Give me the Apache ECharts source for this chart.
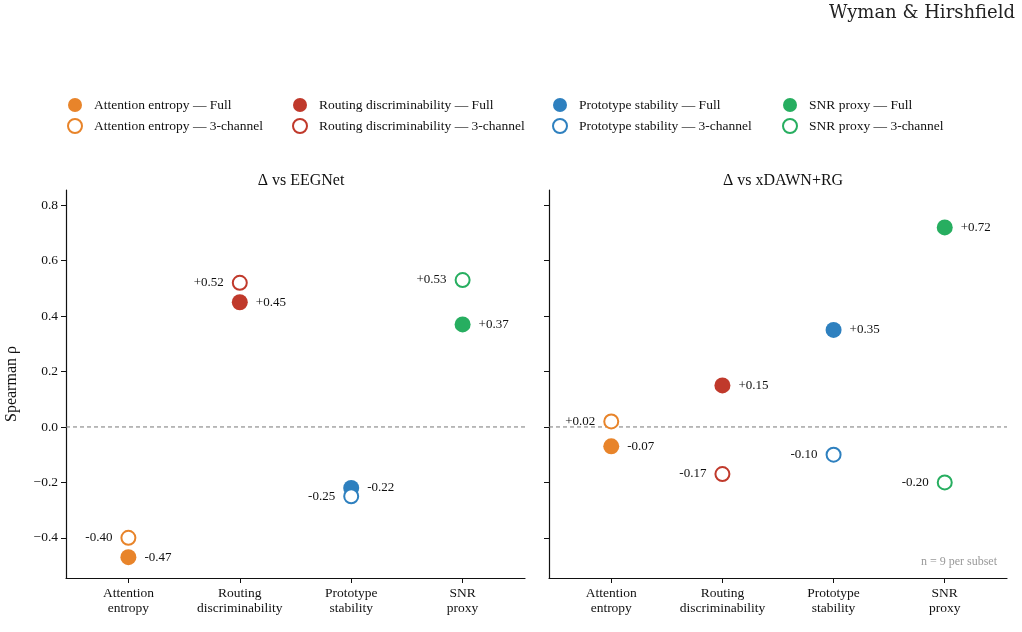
<!DOCTYPE html>
<html>
<head>
<meta charset="utf-8">
<script src="https://cdn.jsdelivr.net/npm/echarts@6/dist/echarts.min.js"></script>
<style>
  html, body { margin: 0; padding: 0; background: #fff; }
  #chart { width: 1022px; height: 632px; }
</style>
</head>
<body>
<div id="chart"></div>
<script>
// metrics (x categories) and tick labels
var categories = ['Attention entropy', 'Routing discriminability', 'Prototype stability', 'SNR proxy'];
var tickLabels = ['Attention\nentropy', 'Routing\ndiscriminability', 'Prototype\nstability', 'SNR\nproxy'];
var colors = ['#e8842a', '#c0392b', '#2e80bf', '#27ae60'];

// Spearman rho, panel 1: delta vs EEGNet
var eegFull = [-0.47, 0.45, -0.22, 0.37];
var eeg3ch  = [-0.40, 0.52, -0.25, 0.53];
// panel 2: delta vs xDAWN+RG
var xdawnFull = [-0.07, 0.15, 0.35, 0.72];
var xdawn3ch  = [0.02, -0.17, -0.10, -0.20];

var yTicks = [-0.4, -0.2, 0.0, 0.2, 0.4, 0.6, 0.8];
var serif = '"Liberation Serif", "DejaVu Serif", serif';

function fmtSigned(v) {
    return (v >= 0 ? '+' : '') + v.toFixed(2);
}

function makeSeries(panel, values, full) {
    var out = [];
    for (var i = 0; i < categories.length; i++) {
        var c = colors[i];
        out.push({
            name: categories[i] + (full ? ' — Full' : ' — 3-channel'),
            type: 'scatter',
            xAxisIndex: panel,
            yAxisIndex: panel,
            symbol: 'circle',
            symbolSize: full ? 16 : 14,
            itemStyle: full ? { color: c, opacity: 1 } : { color: '#fff', borderColor: c, borderWidth: 2, opacity: 1 },
            label: {
                show: true,
                position: full ? 'right' : 'left',
                distance: 8,
                formatter: function (p) { return fmtSigned(p.value[1]); },
                color: '#111',
                fontFamily: serif,
                fontSize: 13
            },
            emphasis: { disabled: true },
            data: [[i, values[i]]],
            z: full ? 3 : 4
        });
    }
    return out;
}

function xAxisOpt(idx) {
    return {
        type: 'value',
        gridIndex: idx,
        min: -0.56,
        max: 3.56,
        splitLine: { show: false },
        axisLine: { onZero: false, lineStyle: { color: '#111', width: 1.2 } },
        axisTick: { show: true, length: 5, customValues: [0, 1, 2, 3], lineStyle: { color: '#111' } },
        axisLabel: {
            customValues: [0, 1, 2, 3],
            formatter: function (v) { return tickLabels[Math.round(v)]; },
            color: '#111',
            fontFamily: serif,
            fontSize: 13.5,
            lineHeight: 15,
            margin: 8
        }
    };
}

function yAxisOpt(idx, withLabels) {
    return {
        type: 'value',
        gridIndex: idx,
        min: -0.545,
        max: 0.855,
        splitLine: { show: false },
        axisLine: { show: true, onZero: false, lineStyle: { color: '#111', width: 1.2 } },
        axisTick: { show: true, length: 5, customValues: yTicks, lineStyle: { color: '#111' } },
        axisLabel: {
            show: withLabels,
            customValues: yTicks,
            formatter: function (v) { return v.toFixed(1).replace('-', '\u2212'); },
            color: '#111',
            fontFamily: serif,
            fontSize: 13.5,
            margin: 8
        },
        name: withLabels ? 'Spearman ρ' : '',
        nameLocation: 'middle',
        nameGap: 46,
        nameRotate: 90,
        nameTextStyle: { fontFamily: serif, fontSize: 16, color: '#111' }
    };
}

function zeroLine(panel) {
    return {
        type: 'line',
        xAxisIndex: panel,
        yAxisIndex: panel,
        silent: true,
        symbol: 'none',
        data: [[-0.56, 0], [3.56, 0]],
        lineStyle: { color: '#777', width: 1, type: [4, 3] },
        z: 1
    };
}

var legends = [];
for (var i = 0; i < categories.length; i++) {
    legends.push({
        orient: 'vertical',
        left: [62, 287, 547, 777][i],
        top: 93,
        itemWidth: 28,
        itemHeight: 14,
        itemGap: 6,
        selectedMode: false,
        textStyle: { fontFamily: serif, fontSize: 13.5, color: '#111' },
        data: [categories[i] + ' — Full', categories[i] + ' — 3-channel']
    });
}

var option = {
    animation: false,
    backgroundColor: '#fff',
    title: [
        { text: 'Δ vs EEGNet', left: 296, top: 168, textAlign: 'center',
          textStyle: { fontFamily: serif, fontSize: 16, fontWeight: 'normal', color: '#111' } },
        { text: 'Δ vs xDAWN+RG', left: 778, top: 168, textAlign: 'center',
          textStyle: { fontFamily: serif, fontSize: 16, fontWeight: 'normal', color: '#111' } }
    ],
    legend: legends,
    graphic: [
        { type: 'text', right: 7, top: 4,
          style: { text: 'Wyman & Hirshfield', font: '18px "DejaVu Serif", serif', fill: '#222' } },
        { type: 'text', right: 25, top: 556,
          style: { text: 'n = 9 per subset', font: '12px "Liberation Serif", serif', fill: '#999' } }
    ],
    grid: [
        { left: 66, top: 190, width: 459, height: 388 },
        { left: 549, top: 190, width: 458, height: 388 }
    ],
    xAxis: [xAxisOpt(0), xAxisOpt(1)],
    yAxis: [yAxisOpt(0, true), yAxisOpt(1, false)],
    series: [zeroLine(0), zeroLine(1)]
        .concat(makeSeries(0, eegFull, true))
        .concat(makeSeries(0, eeg3ch, false))
        .concat(makeSeries(1, xdawnFull, true))
        .concat(makeSeries(1, xdawn3ch, false))
};

var chart = echarts.init(document.getElementById('chart'), null, { renderer: 'canvas' });
chart.setOption(option);
</script>
</body>
</html>
